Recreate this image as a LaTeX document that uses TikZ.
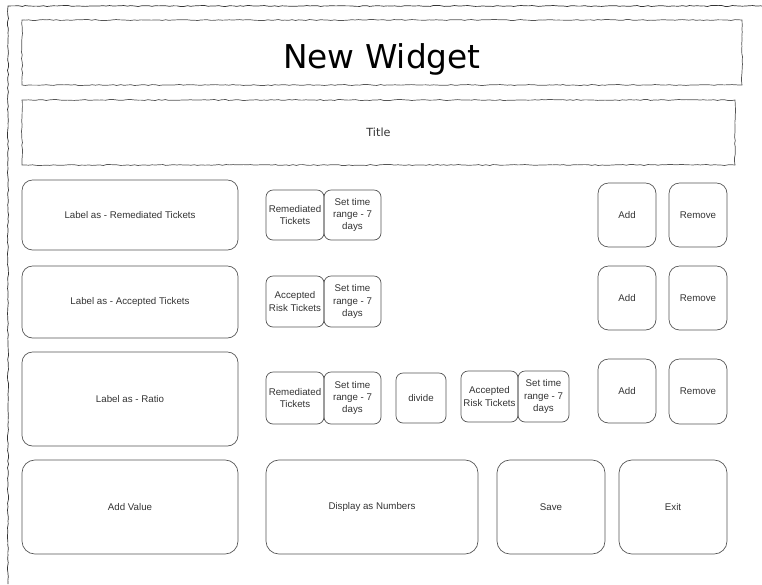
\documentclass[tikz,border=0pt]{standalone}
\usepackage{fontspec}
\setmainfont{Liberation Sans}
\newfontfamily\headfont{DejaVu Sans}
\usetikzlibrary{fit,decorations.pathmorphing}

\definecolor{edgegray}{HTML}{555555}
\definecolor{textgray}{HTML}{333333}

\tikzset{
    sketch/.style={draw=edgegray, decorate, decoration={random steps, segment length=3pt, amplitude=0.45pt}},
    btn/.style={draw=edgegray, rounded corners=9pt, inner sep=0pt},
    chip/.style={btn, rounded corners=6pt},
    big/.style={btn, rounded corners=11pt},
    txt/.style={align=center, inner sep=0pt, text=textgray, font=\fontsize{8.3}{10.5}\selectfont}
}

\begin{document}
\begin{tikzpicture}[x=0.03cm, y=-0.03cm, line width=0.6pt]
    \pgfmathsetseed{7}
    \useasboundingbox (0,0) rectangle (762,584);

    % Rahmen (oben und links, rechts/unten abgeschnitten)
    \draw[sketch, draw=black!80] (8,584) -- (8,6) -- (762,6);

    % Kopfzeile und Titel
    \node[sketch, inner sep=0pt, fit={(22,20) (742,85)}] (header) {};
    \node[font=\headfont\fontsize{28}{30}\selectfont, yshift=-6pt] at (header.center) (headText) {New Widget};
    \node[sketch, inner sep=0pt, fit={(22,100) (735,165)}] (titleBox) {};
    \node[font=\headfont\fontsize{9.6}{11}\selectfont, text=textgray] at (titleBox.center) (titleText) {Title};

    % Zeile 1 - Remediated
    \node[btn, fit={(22,180) (238,250)}] (lblRem) {};
    \node[txt] at (lblRem.center) (lblRemText) {Label as - Remediated Tickets};
    \node[chip, fit={(266,190) (324,240)}] (remOne) {};
    \node[txt] at (remOne.center) (remOneText) {Remediated\\Tickets};
    \node[chip, fit={(324,190) (381,240)}] (timeOne) {};
    \node[txt] at (timeOne.center) (timeOneText) {Set time\\range - 7\\days};
    \node[btn, fit={(598,183) (656,247)}] (addOne) {};
    \node[txt] at (addOne.center) (addOneText) {Add};
    \node[btn, fit={(669,183) (727,247)}] (removeOne) {};
    \node[txt] at (removeOne.center) (removeOneText) {Remove};

    % Zeile 2 - Accepted
    \node[btn, fit={(22,266) (238,338)}] (lblAcc) {};
    \node[txt] at (lblAcc.center) (lblAccText) {Label as - Accepted Tickets};
    \node[chip, fit={(266,276) (324,327)}] (accTwo) {};
    \node[txt] at (accTwo.center) (accTwoText) {Accepted\\Risk Tickets};
    \node[chip, fit={(324,276) (381,327)}] (timeTwo) {};
    \node[txt] at (timeTwo.center) (timeTwoText) {Set time\\range - 7\\days};
    \node[btn, fit={(598,266) (656,330)}] (addTwo) {};
    \node[txt] at (addTwo.center) (addTwoText) {Add};
    \node[btn, fit={(669,266) (727,330)}] (removeTwo) {};
    \node[txt] at (removeTwo.center) (removeTwoText) {Remove};

    % Zeile 3 - Ratio
    \node[btn, fit={(22,352) (238,446)}] (lblRatio) {};
    \node[txt] at (lblRatio.center) (lblRatioText) {Label as - Ratio};
    \node[chip, fit={(266,372) (324,424)}] (remThree) {};
    \node[txt] at (remThree.center) (remThreeText) {Remediated\\Tickets};
    \node[chip, fit={(324,372) (381,424)}] (timeThree) {};
    \node[txt] at (timeThree.center) (timeThreeText) {Set time\\range - 7\\days};
    \node[chip, fit={(396,373) (446,423)}] (divide) {};
    \node[txt] at (divide.center) (divideText) {divide};
    \node[chip, fit={(461,371) (518,422)}] (accThree) {};
    \node[txt] at (accThree.center) (accThreeText) {Accepted\\Risk Tickets};
    \node[chip, fit={(518,371) (569,422)}] (timeFour) {};
    \node[txt] at (timeFour.center) (timeFourText) {Set time\\range - 7\\days};
    \node[btn, fit={(598,359) (656,423)}] (addThree) {};
    \node[txt] at (addThree.center) (addThreeText) {Add};
    \node[btn, fit={(669,359) (727,424)}] (removeThree) {};
    \node[txt] at (removeThree.center) (removeThreeText) {Remove};

    % Untere Knopfleiste
    \node[big, fit={(22,460) (238,554)}] (addValue) {};
    \node[txt] at (addValue.center) (addValueText) {Add Value};
    \node[big, fit={(266,460) (478,554)}] (display) {};
    \node[txt] at (display.center) (displayText) {Display as Numbers};
    \node[big, fit={(497,460) (605,554)}] (save) {};
    \node[txt] at (save.center) (saveText) {Save};
    \node[big, fit={(619,460) (727,554)}] (exit) {};
    \node[txt] at (exit.center) (exitText) {Exit};

\end{tikzpicture}
\end{document}
